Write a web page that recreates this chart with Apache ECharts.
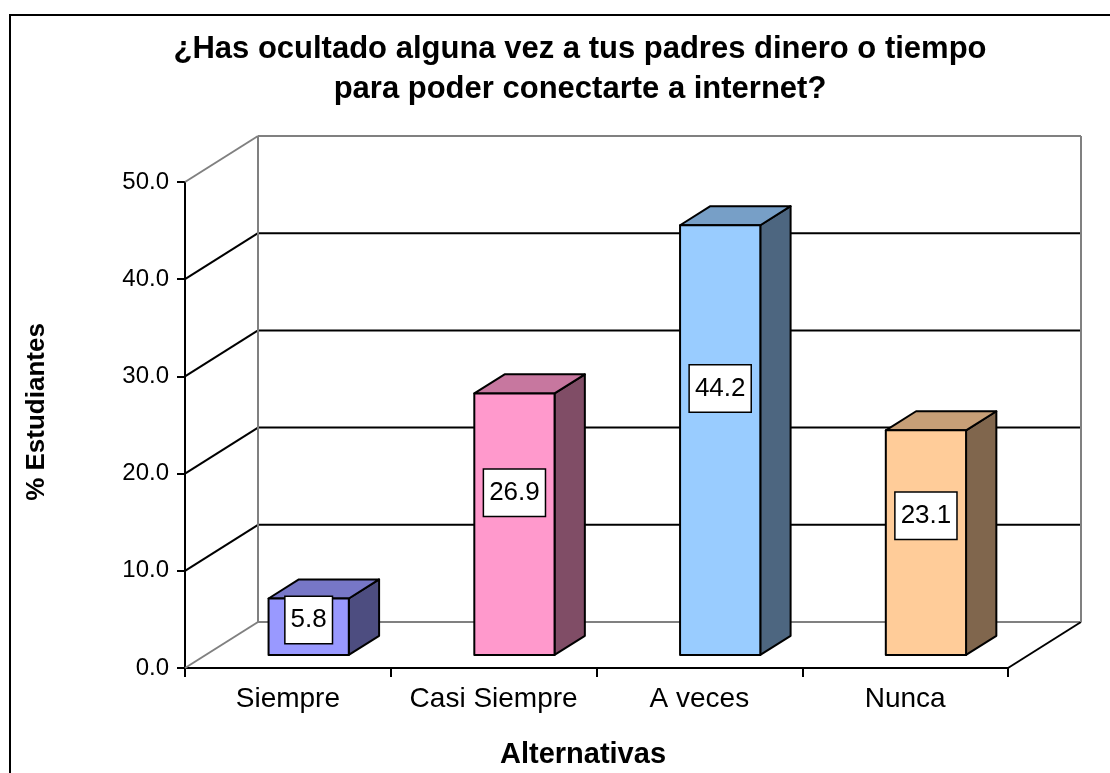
<!DOCTYPE html>
<html>
<head>
<meta charset="utf-8">
<script src="https://cdn.jsdelivr.net/npm/echarts@6/dist/echarts.min.js"></script>
<style>
  html, body { margin: 0; padding: 0; background: #fff; }
  #chart { width: 1110px; height: 773px; }
</style>
</head>
<body>
<div id="chart"></div>
<script>
// datos del gráfico
const categories = ['Siempre', 'Casi Siempre', 'A veces', 'Nunca'];
const values = [5.8, 26.9, 44.2, 23.1];
const yMin = 0, yMax = 50, yStep = 10;
const yLevels = [0, 10, 20, 30, 40, 50];
const barColors = ['#9999FF', '#FF99CC', '#99CCFF', '#FFCC99'];

const FONT = '"Liberation Sans", Arial, sans-serif';
// profundidad del "suelo" 3D en píxeles
const DX = 73, DY = -46;
// posición de la barra dentro de la profundidad
const F0 = 0.285, F1 = 0.70;

function shade(hex, f) {
    const n = parseInt(hex.slice(1), 16);
    const r = Math.round(((n >> 16) & 255) * f);
    const g = Math.round(((n >> 8) & 255) * f);
    const b = Math.round((n & 255) * f);
    return `rgb(${r},${g},${b})`;
}

function line(x1, y1, x2, y2, color) {
    return { type: 'line', shape: { x1, y1, x2, y2 }, style: { stroke: color, lineWidth: 2 } };
}

// paredes y líneas de división
function renderWall(params, api) {
    const lv = api.value(1);
    const cs = params.coordSys;
    const y = api.coord([0, lv])[1];
    const x0 = cs.x, x1 = cs.x + cs.width;
    const edge = lv === yMin || lv === yMax;
    const col = edge ? '#808080' : '#000';
    const children = [
        line(x0, y, x0 + DX, y + DY, col),
        line(x0 + DX, y + DY, x1 + DX, y + DY, col)
    ];
    if (lv === yMax) {
        const bottom = cs.y + cs.height;
        children.push(line(x0 + DX, y + DY, x0 + DX, bottom + DY, '#808080'));
        children.push(line(x1 + DX, y + DY, x1 + DX, bottom + DY, '#808080'));
    }
    if (lv === yMin) {
        children.push(line(x1, y, x1 + DX, y + DY, '#000'));
    }
    return { type: 'group', children };
}

// barras 3D
function renderBar(params, api) {
    const i = api.value(0), v = api.value(1);
    const base = api.coord([i, 0]);
    const top = api.coord([i, v]);
    const w = api.size([1, 0])[0] * 0.39;
    const x0 = base[0] - w / 2 + DX * F0, x1 = x0 + w;
    const yb = base[1] + DY * F0, yt = top[1] + DY * F0;
    const bx = DX * (F1 - F0), by = DY * (F1 - F0);
    const c = barColors[i];
    const stroke = { stroke: '#000', lineWidth: 2, lineJoin: 'round' };
    return {
        type: 'group',
        children: [
            { type: 'polygon', shape: { points: [[x1, yt], [x1 + bx, yt + by], [x1 + bx, yb + by], [x1, yb]] },
              style: Object.assign({ fill: shade(c, 0.5) }, stroke) },
            { type: 'polygon', shape: { points: [[x0, yt], [x1, yt], [x1 + bx, yt + by], [x0 + bx, yt + by]] },
              style: Object.assign({ fill: shade(c, 0.78) }, stroke) },
            { type: 'rect', shape: { x: x0, y: yt, width: w, height: yb - yt },
              style: Object.assign({ fill: c }, stroke) },
            { type: 'text', x: (x0 + x1) / 2, y: yb - (yb - yt) * 0.62,
              style: { text: v.toFixed(1), fontSize: 26, fontFamily: FONT, fill: '#000',
                       align: 'center', verticalAlign: 'middle',
                       backgroundColor: '#fff', borderColor: '#000', borderWidth: 1.5, padding: [10, 5] } }
        ]
    };
}

const chart = echarts.init(document.getElementById('chart'));
chart.setOption({
    animation: false,
    backgroundColor: '#fff',
    title: {
        text: '¿Has ocultado alguna vez a tus padres dinero o tiempo\npara poder conectarte a internet?',
        left: 575, top: 24, textAlign: 'center',
        textStyle: { fontFamily: FONT, fontSize: 31, fontWeight: 'bold', color: '#000', lineHeight: 40 }
    },
    grid: { left: 185, top: 182, right: 102, bottom: 105, containLabel: false, outerBoundsMode: 'none' },
    xAxis: {
        type: 'category',
        data: categories,
        boundaryGap: true,
        axisLine: { lineStyle: { color: '#000', width: 2 } },
        axisTick: { show: true, interval: 0, length: 9, lineStyle: { color: '#000', width: 2 } },
        axisLabel: { interval: 0, fontFamily: FONT, fontSize: 28, color: '#000', margin: 17 },
        splitLine: { show: false }
    },
    yAxis: {
        type: 'value',
        min: yMin, max: yMax, interval: yStep,
        axisLine: { show: true, lineStyle: { color: '#000', width: 2 } },
        axisTick: { show: true, length: 8, lineStyle: { color: '#000', width: 2 } },
        axisLabel: { fontFamily: FONT, fontSize: 24, color: '#000', margin: 16,
                     formatter: v => v.toFixed(1) },
        splitLine: { show: false }
    },
    graphic: [
        { type: 'rect', shape: { x: 10, y: 15, width: 1200, height: 900 },
          style: { fill: 'none', stroke: '#000', lineWidth: 2 }, silent: true },
        { type: 'text', x: 37, y: 412, rotation: Math.PI / 2,
          style: { text: '% Estudiantes', fontFamily: FONT, fontSize: 26, fontWeight: 'bold', fill: '#000',
                   align: 'center', verticalAlign: 'middle' } },
        { type: 'text', x: 583, y: 755,
          style: { text: 'Alternativas', fontFamily: FONT, fontSize: 29, fontWeight: 'bold', fill: '#000',
                   align: 'center', verticalAlign: 'middle' } }
    ],
    series: [
        {
            type: 'custom',
            silent: true,
            renderItem: renderWall,
            data: yLevels.map(v => [0, v]),
            z: 1
        },
        {
            type: 'custom',
            silent: true,
            renderItem: renderBar,
            data: values.map((v, i) => [i, v]),
            z: 2
        }
    ]
});
</script>
</body>
</html>
